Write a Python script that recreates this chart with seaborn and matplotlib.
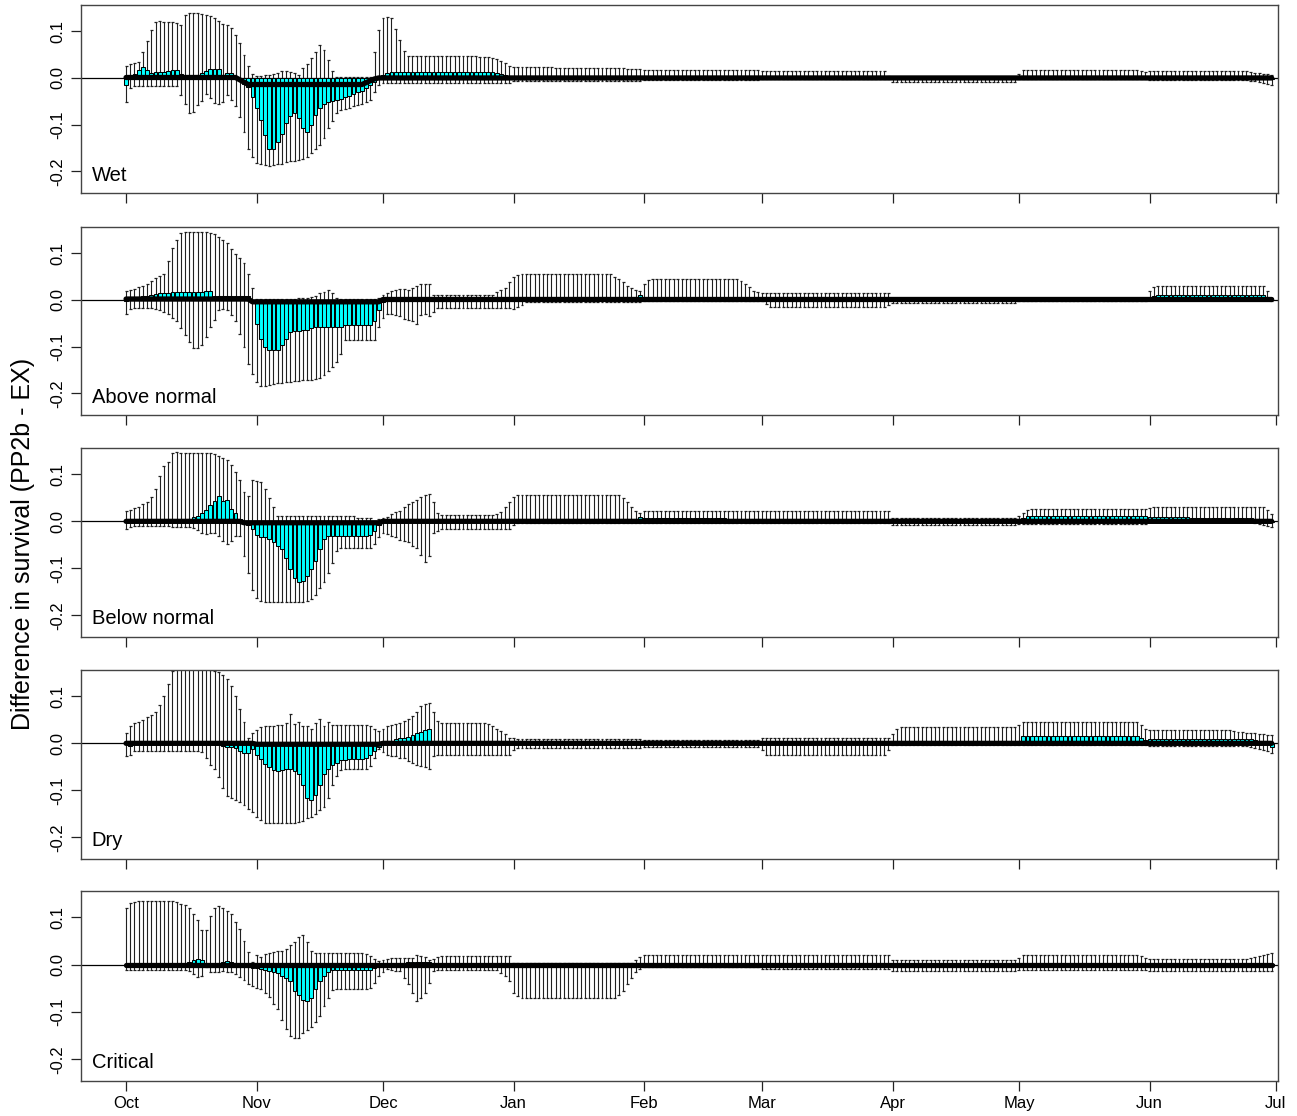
import numpy as np
import pandas as pd
import matplotlib
matplotlib.use("Agg")
import matplotlib.pyplot as plt
import seaborn as sns

# ---------------- data (thousandths), daily Oct 1 .. Jun 30 ----------------
month_labels = ["Oct", "Nov", "Dec", "Jan", "Feb", "Mar", "Apr", "May", "Jun", "Jul"]
month_starts = [0, 31, 61, 92, 123, 151, 182, 212, 243, 273]
panel_names = ["Wet", "Above normal", "Below normal", "Dry", "Critical"]

# ---- Wet ----
wet_hi = ([26, 29, 31, 34, 56, 79, 103, 120, 121, 120, 120, 120, 118, 114, 135, 138, 139, 139, 137, 135,
           132, 128, 122, 116, 114, 106, 92, 74, 49, 26, 8, 4, 4, 6, 6, 9, 10, 14, 14, 12, 10, 6, 21, 29,
           42, 56, 71, 60, 39, 14] + [3] * 9 + [56, 103, 128, 131, 128, 105, 81, 58]
          + [48] * 8 + [47] * 6 + [46] * 3 + [45] + [45, 44, 42, 40, 36, 32, 26]
          + [24] * 10 + [21] * 17 + [19] * 4 + [16] * 28 + [14] * 30 + [5] + [1] * 30
          + [8] + [17] * 28 + [15, 12] + [14] * 24 + [12, 11, 10, 9, 8, 6])
wet_lo = ([-51, -21] + [-17] * 11 + [-36, -56, -74, -72, -58, -49, -35, -42, -54, -56, -51, -36, -47, -61,
          -83, -115, -151, -169, -181, -185, -186, -188, -186, -185, -184, -179, -178, -177, -176, -174,
          -169, -161, -151, -143, -128, -108, -92, -76, -69, -66, -64, -61, -58, -55, -52, -47, -31, -15]
          + [-11] * 31
          + [-6] * 31 + [-4] * 28 + [-3] * 31 + [-8] * 30 + [-3] * 31 + [-5] * 24 + [-6, -7, -8, -10, -12, -15])
wet_mean = ([-15, 3, 8, 16, 23, 16, 11, 13, 13, 13, 15, 16, 16, 8, 5, 4, 4, 6, 10, 15, 19, 19, 19, 6, 10, 11,
            4, -4, -13, -19, -40, -65, -90, -122, -152, -151, -136, -119, -97, -81, -74, -86, -108, -115,
            -100, -79, -65, -56, -51, -49, -47, -44, -41, -38, -35, -31, -28, -22, -14, -8, 4, 6, 11]
            + [13] * 25 + [11, 9, 7, 5]
            + [3] * 31 + [2] * 28 + [2] * 31 + [-1] * 30 + [2] * 31 + [2] * 27 + [0, -1, -3])
wet_med = [1] * 27 + [-4, -9] + [-14] * 28 + [-10, -6, -2] + [0] * 213

# ---- Above normal ----
an_hi = ([19, 22, 24, 28, 30, 35, 41, 46, 51, 56, 84, 112, 128, 144] + [146] * 6
         + [144, 141, 135, 128, 121, 110, 99, 89, 78, 56, 26, 1, 1] + [3] * 8
         + [4, 4, 5, 6, 9, 14, 17, 21, 14, 5] + [1] * 9
         + [5, 10, 14, 19, 21, 24, 24, 21, 26, 29, 34, 35, 34] + [10] * 15 + [17, 21, 26, 39]
         + [50, 54] + [55] * 22 + [50, 44, 38, 30, 25, 22, 20]
         + [35, 42] + [45] * 21 + [40, 34, 27, 20, 16]
         + [14] * 31 + [4] * 30 + [4] * 31 + [20, 27] + [30] * 26 + [20, 5])
an_lo = ([-31, -19] + [-17] * 5
         + [-19, -21, -26, -31, -38, -46, -61, -76, -90, -102, -102, -96, -79, -58, -42, -22, -19, -21, -33,
            -44, -72, -101, -136, -158, -176, -183, -184, -181, -180, -178, -177, -176, -175, -174, -173,
            -172, -171, -171, -169, -166, -161, -152, -144, -133, -115, -86]
         + [-85] * 7 + [-58, -38, -31, -31, -33, -35, -40, -42, -45, -51, -33, -29, -35, -26] + [-17] * 18
         + [-20, -15, -10] + [-4] * 28 + [-2] * 28 + [-2, -8] + [-15] * 28 + [-10]
         + [-6] * 30 + [-2] * 31 + [0] * 29 + [-3])
an_mean = ([-3, 4, 6, 7, 8, 9, 11, 12, 14, 15, 15] + [16] * 8 + [19, 19] + [8] * 9
           + [-5, -51, -83, -101, -106, -108, -106, -97, -83, -69, -67, -66, -65, -64, -61]
           + [-58] * 7 + [-54] * 7 + [-44, -22, -4] + [1] * 30
           + [7] * 30 + [10] + [1] * 28 + [0] * 31 + [0] * 30 + [0] * 31 + [4, 8] + [10] * 26 + [6, 0])
an_med = [2] * 30 + [-4] * 31 + [1] * 212

# ---- Below normal ----
bn_hi = ([21, 25, 28, 30, 36, 41, 51, 69, 96, 117, 126, 146, 148] + [146] * 8
         + [143, 139, 134, 130, 119, 105, 87, 62, 53, 87, 86, 84, 69, 50, 31, 11] + [11] * 18 + [7] * 4
         + [1, 5, 7, 10, 16, 19, 23, 30, 36, 41, 46, 51, 57, 59, 41, 17] + [14] * 13 + [16, 19, 30, 41]
         + [52] + [56] * 25 + [50, 42, 30, 22, 18] + [23] * 28 + [21] * 31 + [8] * 30
         + [12, 18, 24] + [26] * 28 + [28] + [30] * 27 + [24, 15])
bn_lo = ([-16, -11] + [-9] * 9
         + [-11, -11, -13, -11, -11, -14, -18, -24, -27, -24, -24, -31, -41, -49, -41, -31, -31, -74, -109,
            -145, -163, -169, -171] + [-172] * 9 + [-170, -166, -156, -141, -129, -109, -88, -63] + [-56] * 8
         + [-49, -33, -24, -26, -31, -34, -40, -41, -45, -52, -56, -71, -86, -74, -24, -20] + [-16] * 17
         + [-8] + [-3] * 30 + [-3] * 28 + [-3] * 31 + [-7] * 30 + [-5] * 31 + [-1] * 25 + [-3, -5, -8, -10, -12])
bn_mean = ([0] * 15 + [5, 9, 12, 17, 25, 34, 43, 53, 44, 46, 26, 17, 5, -4, -7, -16, -29, -33, -34, -38, -45,
                       -52, -59, -77, -102, -120, -129, -126, -116, -102, -84, -59, -38]
           + [-31] * 10 + [-29, -20, -7] + [4] * 31
           + [6] * 30 + [9] + [8] * 20 + [4] * 8 + [1] * 31 + [0] * 30 + [3, 7] + [12] * 29
           + [10] * 10 + [8] * 15 + [6, 4, 2, 0, -2])
bn_med = [0] * 28 + [-3] * 33 + [0] * 212

# ---- Dry ----
dry_hi = ([21, 36, 43, 46, 49, 55, 60, 67, 81, 101, 126, 153] + [160] * 8
          + [155, 153, 151, 146, 137, 121, 101, 73, 46, 12, 21, 29, 34, 37, 37, 37, 39, 39, 44, 62, 41, 46,
             37, 37, 30, 44, 51, 37, 46] + [39] * 9
          + [36, 30, 26, 30, 37, 39, 41, 44, 48, 51, 59, 67, 80, 84, 86, 67, 48] + [44] * 11
          + [41, 36, 31, 26, 19, 12]
          + [12] + [9] * 30 + [7] * 28 + [11] * 31 + [20, 30] + [34] * 28 + [40] + [46] * 28 + [40, 30]
          + [28] * 20 + [26, 25, 24, 23, 22, 21, 20, 19, 18, 17])
dry_lo = ([-27, -24] + [-16] * 16
          + [-19, -31, -45, -54, -71, -95, -113, -116, -120, -124, -131, -140, -145, -156, -163, -169]
          + [-170] * 7 + [-167, -166, -159, -156, -150, -141, -136, -116, -88, -70, -56] + [-54] * 6
          + [-49, -31, -13, -19, -24, -26, -27, -31, -31, -38, -41, -45, -49, -51, -54, -26, -24] + [-24] * 17
          + [-15] + [-9] * 30 + [-7] * 28 + [-15] + [-24] * 29 + [-15] + [-4] * 30 + [-4] * 31
          + [-5] * 24 + [-7, -9, -11, -14, -17, -20])
dry_mean = ([0, -5] + [0] * 21
            + [-6, -7, -7, -9, -16, -21, -21, -13, -24, -34, -43, -50, -57, -59, -56, -54, -54, -59, -66, -88,
               -116, -120, -109, -88, -66, -54, -46, -41, -36, -36] + [-33] * 4
            + [-31, -24, -16, -7, 1, 6, 6, 9, 11, 12, 14, 17, 21, 25, 29, 31, 3] + [3] * 18
            + [1] * 31 + [1] * 28 + [0] * 31 + [1] * 30 + [5] + [15] * 28 + [12, 8] + [9] * 25 + [7, 5, 2, -2, -7])
dry_med = [0] * 31 + [-2] * 30 + [0] * 212

# ---- Critical ----
cr_hi = ([121, 131, 133] + [134] * 8
         + [134, 133, 129, 126, 119, 107, 94, 74, 74, 103, 119, 124, 119, 114, 107, 91, 76, 51, 26, 5, 21, 17,
            23, 25, 26, 28, 30, 34, 41, 48, 59, 62, 48, 28, 24] + [24] * 11 + [23, 19, 12, 7, 9, 12] + [14] * 6
         + [21, 19, 17, 9, 12, 17] + [19] * 17
         + [3] * 29 + [10, 16] + [21] * 28 + [21] * 31 + [9] * 30 + [15] + [21] * 28 + [18, 14]
         + [12] * 24 + [14, 16, 18, 20, 22, 24])
cr_lo = ([-11] * 15
         + [-14, -20, -26, -24, -4, -16, -16, -16, -14, -16, -16, -19, -26, -33, -40, -45, -49, -52, -59, -69,
            -83, -93, -116, -136, -150, -156, -154, -145, -138, -131, -121, -109, -88, -70, -54, -52]
         + [-52] * 7 + [-49, -38, -24, -16, -9, -11, -13, -13, -29, -41, -59, -77, -70, -59, -38, -13]
         + [-11] * 15 + [-17, -24, -34]
         + [-59, -66] + [-70] * 23 + [-65, -55, -40, -28, -15, -8] + [-4] * 28 + [-9] * 31 + [-13] * 30
         + [-11] * 31 + [-14] * 30)
cr_mean = ([0] * 15 + [5, 9, 12, 11, 3, 0, 0, 4, 5, 7, 5, 4, 3, 1, -4, -6, -7, -9, -11, -13, -15, -17, -24,
                       -29, -34, -56, -64, -74, -76, -70, -52, -34, -24, -16]
           + [-12] * 10 + [-6] + [0] * 7 + [5] * 6 + [0] * 19
           + [-2] * 31 + [1] * 28 + [1] * 31 + [0] * 30 + [2] * 31 + [1] * 30)
cr_med = [0] * 273

N_DAYS = 273
days = np.arange(N_DAYS)


def as_series(v):
    v = list(v)
    if len(v) != N_DAYS:
        print("length", len(v))
        v = (v + [v[-1]] * N_DAYS)[:N_DAYS]
    return np.array(v, dtype=float) / 1000.0


panels = [
    (panel_names[0], wet_mean, wet_lo, wet_hi, wet_med),
    (panel_names[1], an_mean, an_lo, an_hi, an_med),
    (panel_names[2], bn_mean, bn_lo, bn_hi, bn_med),
    (panel_names[3], dry_mean, dry_lo, dry_hi, dry_med),
    (panel_names[4], cr_mean, cr_lo, cr_hi, cr_med),
]

# ---------------- figure ----------------
sns.set_style("ticks")
plt.rcParams["font.family"] = ["Liberation Sans", "DejaVu Sans"]
plt.rcParams["axes.unicode_minus"] = False
for key in ["text.color", "axes.labelcolor", "xtick.color", "ytick.color"]:
    plt.rcParams[key] = "black"

W, H = 1297, 1116
fig = plt.figure(figsize=(W / 100, H / 100), dpi=100)
panel_px = [(5, 193), (227, 415), (448, 637), (670, 859), (891, 1081)]
left_px, right_px = 81, 1278
wcol = "#202020"

for i, ((name, m, lo, hi, med), (top, bot)) in enumerate(zip(panels, panel_px)):
    ax = fig.add_axes([left_px / W, 1 - bot / H, (right_px - left_px) / W, (bot - top) / H])
    m, lo, hi, med = as_series(m), as_series(lo), as_series(hi), as_series(med)
    df = pd.DataFrame({"day": days, "mean": m})

    ax.axhline(0, color="black", lw=0.9, zorder=1)
    ax.vlines(days, lo, hi, color=wcol, lw=0.8, zorder=1.5)
    ax.hlines(hi, days - 0.35, days + 0.35, color=wcol, lw=0.9, zorder=1.5)
    ax.hlines(lo, days - 0.35, days + 0.35, color=wcol, lw=0.9, zorder=1.5)
    sns.barplot(data=df, x="day", y="mean", native_scale=True, color="#00FFFF", saturation=1,
                edgecolor="black", linewidth=0.75, width=0.9, errorbar=None, ax=ax, zorder=2)
    sns.lineplot(x=days, y=med, color="black", linewidth=3.8, ax=ax, zorder=4)

    ax.set_xlim(-10.7, 273.5)
    ax.set_ylim(-0.246, 0.156)
    ax.set_xlabel("")
    ax.set_ylabel("")
    ax.set_xticks(month_starts)
    if i == len(panels) - 1:
        ax.set_xticklabels(month_labels, fontsize=12)
    else:
        ax.set_xticklabels([])
    ax.set_yticks([0.1, 0.0, -0.1, -0.2])
    ax.set_yticklabels(["0.1", "0.0", "-0.1", "-0.2"], rotation=90, va="center", fontsize=12)
    ax.tick_params(axis="both", direction="out", length=7, width=0.9, color="#222222", pad=4)
    for sp in ax.spines.values():
        sp.set_visible(True)
        sp.set_color("#444444")
        sp.set_linewidth(1.0)
    ax.text(0.009, 0.045, name, transform=ax.transAxes, fontsize=14.5, ha="left", va="bottom")

fig.text(0.018, 0.513, "Difference in survival (PP2b - EX)", rotation=90, va="center", ha="center",
         fontsize=18)

fig.savefig("out.png", dpi=100)
